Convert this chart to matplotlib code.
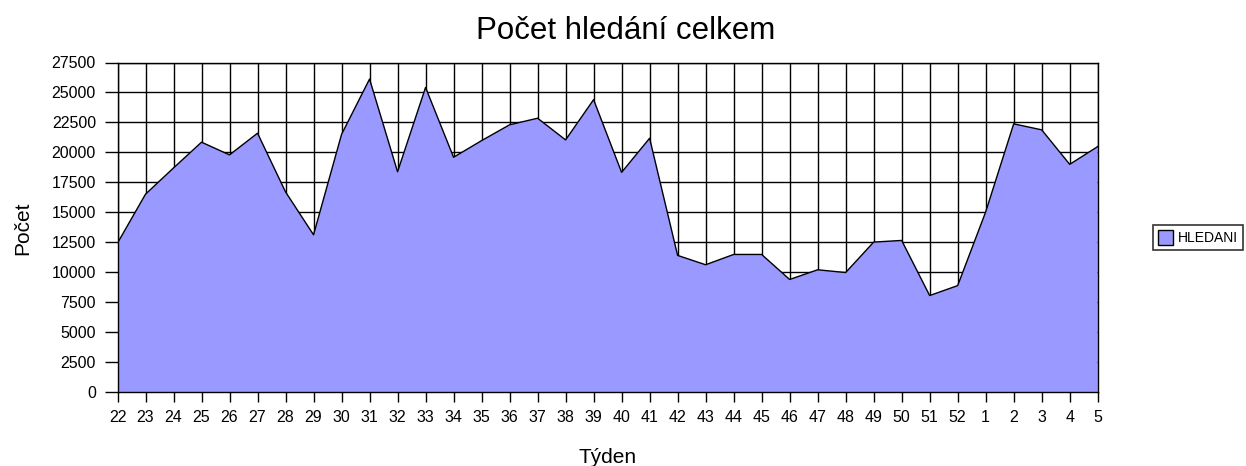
import matplotlib
matplotlib.use("Agg")
import matplotlib.pyplot as plt
from matplotlib.patches import Patch

weeks = ["22", "23", "24", "25", "26", "27", "28", "29", "30", "31", "32", "33", "34", "35",
         "36", "37", "38", "39", "40", "41", "42", "43", "44", "45", "46", "47", "48", "49",
         "50", "51", "52", "1", "2", "3", "4", "5"]
hledani = [12430, 16510, 18700, 20850, 19790, 21600, 16700, 13120, 21500, 26120, 18380, 25420,
           19590, 20980, 22300, 22850, 21040, 24400, 18330, 21180, 11400, 10620, 11480, 11480,
           9390, 10200, 9970, 12510, 12650, 8050, 8880, 15030, 22380, 21880, 19000, 20480]
y_ticks = list(range(0, 27501, 2500))

plt.rcParams["font.family"] = ["Liberation Sans", "DejaVu Sans"]

W, H = 1246, 466
fig = plt.figure(figsize=(W / 100, H / 100), dpi=100)
L, R, T, B = 117.5, 1097.7, 62.5, 392
ax = fig.add_axes([L / W, 1 - B / H, (R - L) / W, (B - T) / H])

x = list(range(len(weeks)))
ax.fill_between(x, hledani, 0, facecolor="#9999FF", edgecolor="none", zorder=3)
ax.plot(x, hledani, color="black", linewidth=1, zorder=4)

ax.set_xlim(0, len(weeks) - 1)
ax.set_ylim(0, 27500)
ax.set_xticks(x)
ax.set_xticklabels(weeks, fontsize=11.5)
ax.set_yticks(y_ticks)
ax.set_yticklabels([str(v) for v in y_ticks], fontsize=11.5)
ax.grid(True, color="black", linewidth=1, zorder=1)
ax.set_axisbelow(True)
ax.tick_params(axis="x", direction="out", length=7, width=1, pad=6)
ax.tick_params(axis="y", direction="out", length=9.5, width=1, pad=6)
for s in ax.spines.values():
    s.set_color("black")
    s.set_linewidth(1)
    s.set_zorder(5)

fig.text(626 / W, 1 - 39.3 / H, "Počet hledání celkem", ha="center", va="baseline", fontsize=22.5)
fig.text((L + R) / 2 / W, 1 - 463 / H, "Týden", ha="center", va="baseline", fontsize=15)
fig.text(22.5 / W, 1 - 228 / H, "Počet", ha="center", va="center", rotation=90, fontsize=15)

leg = fig.legend(handles=[Patch(facecolor="#9999FF", edgecolor="black", label="HLEDANI")],
                 loc="center", bbox_to_anchor=(1198 / W, 1 - 237.5 / H), fontsize=10,
                 frameon=True, fancybox=False, edgecolor="black", handlelength=1.1,
                 handleheight=1.25, handletextpad=0.36, borderpad=0.38, borderaxespad=0)
leg.get_frame().set_linewidth(1.2)

fig.savefig("out.png", dpi=100)
